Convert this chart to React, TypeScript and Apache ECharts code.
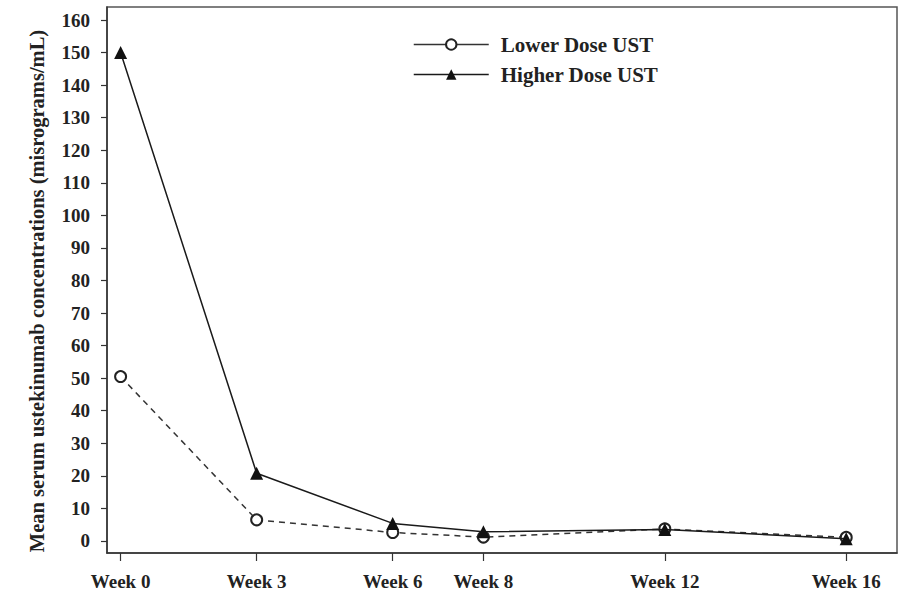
import React, { useEffect, useRef } from "react";
import * as echarts from "echarts";

const weeks = [0, 3, 6, 8, 12, 16];
const lowerDose = [50.5, 6.5, 2.6, 1.2, 3.7, 1.1];
const higherDose = [150, 20.8, 5.4, 2.8, 3.5, 0.7];
const yTicks = [0, 10, 20, 30, 40, 50, 60, 70, 80, 90, 100, 110, 120, 130, 140, 150, 160];
const seriesNames = ["Lower Dose UST", "Higher Dose UST"];
const yTitle = "Mean serum ustekinumab concentrations (misrograms/mL)";

const FONT = "Liberation Serif";

export default function App() {
  const ref = useRef<HTMLDivElement>(null);
  useEffect(() => {
    if (!ref.current) return;
    const chart = echarts.init(ref.current, undefined, { renderer: "svg" });
    chart.setOption({
      animation: false,
      backgroundColor: "#ffffff",
      grid: {
        left: 107,
        right: 5,
        top: 7,
        bottom: 41,
        show: true,
        borderColor: "#555",
        borderWidth: 1.5,
        containLabel: false,
      },
      legend: {
        orient: "vertical",
        left: 408,
        top: 29,
        itemWidth: 75,
        itemHeight: 13,
        itemGap: 9,
        data: seriesNames,
        lineStyle: { type: "solid", width: 1.5 },
        textStyle: {
          fontFamily: FONT,
          fontSize: 21,
          fontWeight: "bold",
          color: "#222",
          padding: [0, 0, 0, 7],
        },
      },
      xAxis: {
        type: "value",
        min: -0.3,
        max: 17.12,
        splitLine: { show: false },
        axisLine: { show: true, onZero: false, lineStyle: { color: "#333", width: 1.5 } },
        axisTick: {
          show: true,
          customValues: weeks,
          length: 8,
          lineStyle: { color: "#333", width: 1.2 },
        },
        axisLabel: {
          customValues: weeks,
          formatter: (v: number) => "Week " + v,
          fontFamily: FONT,
          fontSize: 19,
          fontWeight: "bold",
          color: "#222",
          margin: 19,
        },
      },
      yAxis: {
        type: "value",
        min: -3.69,
        max: 164,
        name: yTitle,
        nameLocation: "middle",
        nameGap: 60,
        nameTextStyle: {
          fontFamily: FONT,
          fontSize: 20.5,
          fontWeight: "bold",
          color: "#222",
          padding: [0, 22, 0, 0],
        },
        splitLine: { show: false },
        axisLine: { show: true, onZero: false, lineStyle: { color: "#333", width: 1.5 } },
        axisTick: {
          show: true,
          customValues: yTicks,
          length: 6,
          lineStyle: { color: "#333", width: 1.2 },
        },
        axisLabel: {
          customValues: yTicks,
          fontFamily: FONT,
          fontSize: 19,
          fontWeight: "bold",
          color: "#222",
          margin: 17,
        },
      },
      series: [
        {
          name: seriesNames[0],
          type: "line",
          data: weeks.map((w, i) => [w, lowerDose[i]]),
          symbol: "emptyCircle",
          symbolSize: 11,
          lineStyle: { color: "#333", width: 1.5, type: [6, 5] },
          itemStyle: { color: "#222", borderWidth: 1.5 },
          z: 2,
        },
        {
          name: seriesNames[1],
          type: "line",
          data: weeks.map((w, i) => [w, higherDose[i]]),
          symbol: "triangle",
          symbolSize: 13,
          lineStyle: { color: "#1a1a1a", width: 1.5, type: "solid" },
          itemStyle: { color: "#111" },
          z: 3,
        },
      ],
    });
    return () => chart.dispose();
  }, []);
  return (
    <div
      ref={ref}
      style={{ position: "fixed", left: 0, top: 0, width: 902, height: 594 }}
    />
  );
}
